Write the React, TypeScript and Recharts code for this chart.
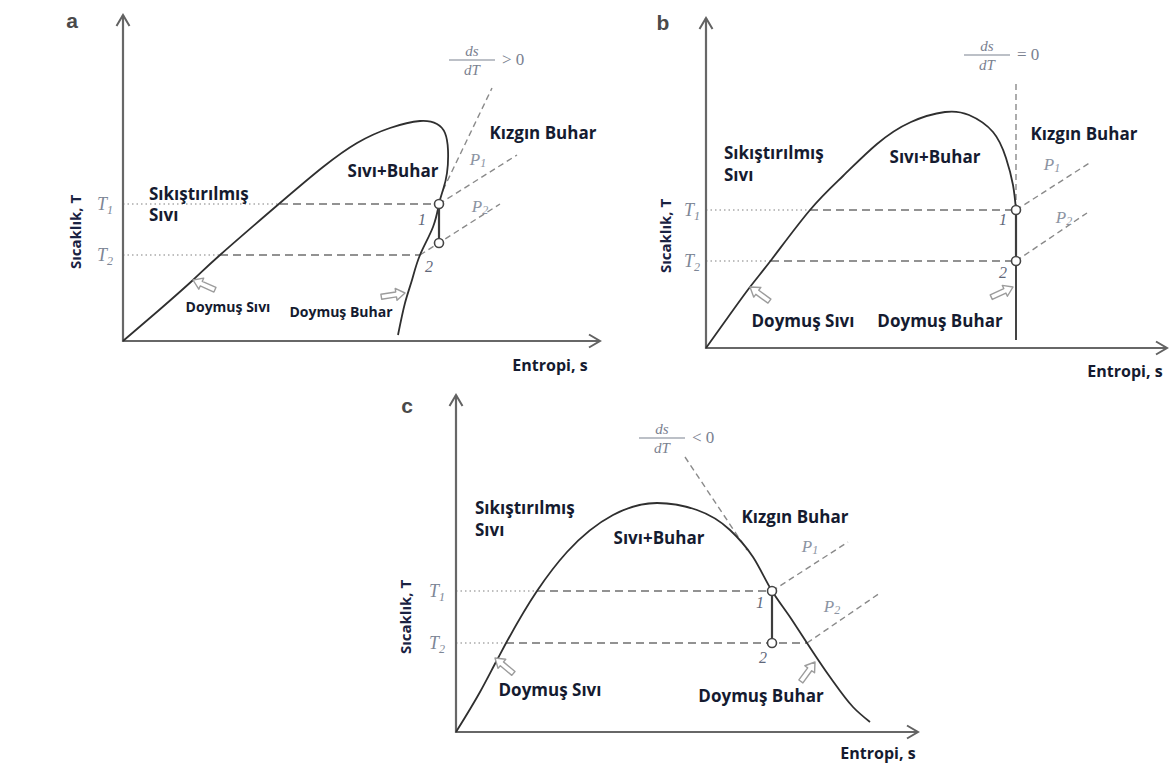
import React from 'react'
import { ComposedChart, Line, Scatter, XAxis, YAxis } from 'recharts'

type Pt = { s: number; T: number }
type Note = { s: number; T: number; text: string; kind: string; sub?: string }
type Pointer = { s: number; T: number; dir: number }

const SANS = '"Open Sans", "Noto Sans", sans-serif'
const SERIF = '"Liberation Serif", "DejaVu Serif", serif'
const INK = '#151b30'

// ---------- (a) ds/dT > 0 ----------
const axesA: Pt[] = [{ s: 0, T: 326 }, { s: 0, T: 0 }, { s: 477, T: 0 }]
const domeA: Pt[] = [
  { s: 0, T: 0 }, { s: 35, T: 30 }, { s: 70, T: 61 }, { s: 97, T: 86 }, { s: 157, T: 138 },
  { s: 200, T: 174 }, { s: 234, T: 198 }, { s: 267, T: 213 }, { s: 297, T: 220 },
  { s: 314, T: 217 }, { s: 322, T: 208 }, { s: 325, T: 191 }, { s: 324, T: 168 },
  { s: 320, T: 151 }, { s: 316, T: 137 }, { s: 310, T: 114 }, { s: 297, T: 86 },
  { s: 289, T: 61 }, { s: 282, T: 38 }, { s: 275, T: 6 },
]
const guidesA: Pt[][] = [
  [{ s: 0, T: 137 }, { s: 157, T: 137 }],
  [{ s: 0, T: 86 }, { s: 97, T: 86 }],
]
const isothermsA: Pt[][] = [
  [{ s: 157, T: 137 }, { s: 316, T: 137 }],
  [{ s: 97, T: 86 }, { s: 297, T: 86 }],
]
const isobarsA: Pt[][] = [
  [{ s: 316, T: 137 }, { s: 394, T: 186 }],
  [{ s: 297, T: 86 }, { s: 377, T: 137 }],
  [{ s: 320, T: 151 }, { s: 369, T: 253 }],
]
const expansionA: Pt[] = [{ s: 316, T: 137 }, { s: 316, T: 98 }]
const notesA: Note[] = [
  { s: -51, T: 321, text: 'a', kind: 'letter' },
  { s: -48, T: 109, text: 'Sıcaklık, T', kind: 'axisT' },
  { s: 427, T: -24, text: 'Entropi, s', kind: 'axisS' },
  { s: -18, T: 137, text: 'T', sub: '1', kind: 'tick' },
  { s: -18, T: 86, text: 'T', sub: '2', kind: 'tick' },
  { s: 349, T: 281, text: '> 0', kind: 'frac' },
  { s: 420, T: 209, text: 'Kızgın Buhar', kind: 'region' },
  { s: 270, T: 171, text: 'Sıvı+Buhar', kind: 'region' },
  { s: 26, T: 148, text: 'Sıkıştırılmış', kind: 'regionLeft' },
  { s: 26, T: 127, text: 'Sıvı', kind: 'regionLeft' },
  { s: 105, T: 35, text: 'Doymuş Sıvı', kind: 'note' },
  { s: 218, T: 30, text: 'Doymuş Buhar', kind: 'note' },
  { s: 355, T: 181, text: 'P', sub: '1', kind: 'iso' },
  { s: 357, T: 134, text: 'P', sub: '2', kind: 'iso' },
  { s: 299, T: 121, text: '1', kind: 'state' },
  { s: 306, T: 74, text: '2', kind: 'state' },
]
const pointersA: Pointer[] = [
  { s: 70, T: 61, dir: 204 },
  { s: 282, T: 48, dir: -9 },
]

// ---------- (b) ds/dT = 0 ----------
const axesB: Pt[] = [{ s: 0, T: 330 }, { s: 0, T: 0 }, { s: 461, T: 0 }]
const domeB: Pt[] = [
  { s: 0, T: 0 }, { s: 20, T: 28 }, { s: 44, T: 61 }, { s: 66, T: 89 }, { s: 104, T: 138 },
  { s: 137, T: 172 }, { s: 171, T: 204 }, { s: 205, T: 226 }, { s: 239, T: 236 },
  { s: 263, T: 233 }, { s: 287, T: 216 }, { s: 300, T: 190 }, { s: 307, T: 163 },
  { s: 310, T: 138 },
]
const vaporB: Pt[] = [{ s: 310, T: 138 }, { s: 310, T: 8 }]
const guidesB: Pt[][] = [
  [{ s: 0, T: 138 }, { s: 104, T: 138 }],
  [{ s: 0, T: 87 }, { s: 65, T: 87 }],
]
const isothermsB: Pt[][] = [
  [{ s: 104, T: 138 }, { s: 310, T: 138 }],
  [{ s: 65, T: 87 }, { s: 310, T: 87 }],
]
const isobarsB: Pt[][] = [
  [{ s: 310, T: 138 }, { s: 385, T: 186 }],
  [{ s: 310, T: 87 }, { s: 381, T: 135 }],
  [{ s: 310, T: 138 }, { s: 310, T: 266 }],
]
const expansionB: Pt[] = [{ s: 310, T: 138 }, { s: 310, T: 87 }]
const notesB: Note[] = [
  { s: -43, T: 326, text: 'b', kind: 'letter' },
  { s: -41, T: 112, text: 'Sıcaklık, T', kind: 'axisT' },
  { s: 419, T: -23, text: 'Entropi, s', kind: 'axisS' },
  { s: -14, T: 138, text: 'T', sub: '1', kind: 'tick' },
  { s: -14, T: 87, text: 'T', sub: '2', kind: 'tick' },
  { s: 281, T: 293, text: '= 0', kind: 'frac' },
  { s: 378, T: 215, text: 'Kızgın Buhar', kind: 'region' },
  { s: 229, T: 192, text: 'Sıvı+Buhar', kind: 'region' },
  { s: 18, T: 196, text: 'Sıkıştırılmış', kind: 'regionLeft' },
  { s: 18, T: 174, text: 'Sıvı', kind: 'regionLeft' },
  { s: 97, T: 28, text: 'Doymuş Sıvı', kind: 'note' },
  { s: 234, T: 28, text: 'Doymuş Buhar', kind: 'note' },
  { s: 346, T: 183, text: 'P', sub: '1', kind: 'iso' },
  { s: 358, T: 130, text: 'P', sub: '2', kind: 'iso' },
  { s: 297, T: 128, text: '1', kind: 'state' },
  { s: 297, T: 75, text: '2', kind: 'state' },
]
const pointersB: Pointer[] = [
  { s: 44, T: 61, dir: 216 },
  { s: 307, T: 61, dir: -25 },
]

// ---------- (c) ds/dT < 0 ----------
const axesC: Pt[] = [{ s: 0, T: 337 }, { s: 0, T: 0 }, { s: 462, T: 0 }]
const domeC: Pt[] = [
  { s: 0, T: 0 }, { s: 24, T: 40 }, { s: 41, T: 72 }, { s: 49, T: 87 }, { s: 81, T: 141 },
  { s: 111, T: 180 }, { s: 157, T: 217 }, { s: 201, T: 229 }, { s: 241, T: 222 },
  { s: 274, T: 202 }, { s: 297, T: 175 }, { s: 316, T: 141 }, { s: 334, T: 115 },
  { s: 351, T: 89 }, { s: 374, T: 55 }, { s: 397, T: 25 }, { s: 414, T: 10 },
]
const guidesC: Pt[][] = [
  [{ s: 0, T: 141 }, { s: 81, T: 141 }],
  [{ s: 0, T: 89 }, { s: 50, T: 89 }],
]
const isothermsC: Pt[][] = [
  [{ s: 81, T: 141 }, { s: 316, T: 141 }],
  [{ s: 50, T: 89 }, { s: 351, T: 89 }],
]
const isobarsC: Pt[][] = [
  [{ s: 316, T: 141 }, { s: 392, T: 190 }],
  [{ s: 351, T: 89 }, { s: 424, T: 139 }],
  [{ s: 229, T: 275 }, { s: 291, T: 182 }],
]
const expansionC: Pt[] = [{ s: 316, T: 141 }, { s: 316, T: 89 }]
const notesC: Note[] = [
  { s: -49, T: 327, text: 'c', kind: 'letter' },
  { s: -51, T: 115, text: 'Sıcaklık, T', kind: 'axisT' },
  { s: 422, T: -21, text: 'Entropi, s', kind: 'axisS' },
  { s: -19, T: 141, text: 'T', sub: '1', kind: 'tick' },
  { s: -19, T: 89, text: 'T', sub: '2', kind: 'tick' },
  { s: 206, T: 294, text: '< 0', kind: 'frac' },
  { s: 339, T: 216, text: 'Kızgın Buhar', kind: 'region' },
  { s: 203, T: 195, text: 'Sıvı+Buhar', kind: 'region' },
  { s: 19, T: 225, text: 'Sıkıştırılmış', kind: 'regionLeft' },
  { s: 19, T: 203, text: 'Sıvı', kind: 'regionLeft' },
  { s: 94, T: 43, text: 'Doymuş Sıvı', kind: 'note' },
  { s: 305, T: 37, text: 'Doymuş Buhar', kind: 'note' },
  { s: 354, T: 185, text: 'P', sub: '1', kind: 'iso' },
  { s: 376, T: 125, text: 'P', sub: '2', kind: 'iso' },
  { s: 304, T: 129, text: '1', kind: 'state' },
  { s: 307, T: 74, text: '2', kind: 'state' },
]
const pointersC: Pointer[] = [
  { s: 39, T: 74, dir: 220 },
  { s: 359, T: 70, dir: -54 },
]

type Sizes = { region: number; note: number }

// one text renderer for every annotation kind
const makeNote = (sizes: Sizes) => (props: any) => {
  const { cx, cy, payload } = props
  const n: Note = payload
  const bold = { fontFamily: SANS, fontWeight: 700, fill: INK }
  switch (n.kind) {
    case 'letter':
      return (
        <text x={cx} y={cy} textAnchor="middle" dominantBaseline="central"
          fontFamily='"Liberation Sans", Arial, sans-serif' fontWeight={600} fontSize={21} fill="#4a4a4a">
          {n.text}
        </text>
      )
    case 'axisT':
      return (
        <text x={cx} y={cy} textAnchor="middle" dominantBaseline="central" fontSize={15}
          transform={`rotate(-90, ${cx}, ${cy})`} {...bold} fill="#1a2242">
          {n.text}
        </text>
      )
    case 'axisS':
      return (
        <text x={cx} y={cy} textAnchor="middle" dominantBaseline="central" fontSize={16} {...bold}>
          {n.text}
        </text>
      )
    case 'region':
    case 'regionLeft':
      return (
        <text x={cx} y={cy} textAnchor={n.kind === 'region' ? 'middle' : 'start'}
          dominantBaseline="central" fontSize={sizes.region} {...bold}>
          {n.text}
        </text>
      )
    case 'note':
      return (
        <text x={cx} y={cy} textAnchor="middle" dominantBaseline="central" fontSize={sizes.note} {...bold}>
          {n.text}
        </text>
      )
    case 'tick':
      return (
        <text x={cx} y={cy + 6} textAnchor="middle" fontFamily={SERIF} fontStyle="italic"
          fontSize={18} fill="#7d8696">
          {n.text}
          <tspan fontSize={12} dy={4}>{n.sub}</tspan>
        </text>
      )
    case 'iso':
      return (
        <text x={cx} y={cy + 5} textAnchor="middle" fontFamily={SERIF} fontStyle="italic"
          fontSize={17} fill="#8c94a2">
          {n.text}
          <tspan fontSize={12} dy={2}>{n.sub}</tspan>
        </text>
      )
    case 'state':
      return (
        <text x={cx} y={cy + 5} textAnchor="middle" fontFamily={SERIF} fontStyle="italic"
          fontSize={16} fill="#5f6779">
          {n.text}
        </text>
      )
    case 'frac':
      return (
        <g fill="#7a8190" fontFamily={SERIF}>
          <text x={cx} y={cy - 4} textAnchor="middle" fontStyle="italic" fontSize={15}>ds</text>
          <line x1={cx - 23} x2={cx + 23} y1={cy} y2={cy} stroke="#7a8190" strokeWidth={1.2} />
          <text x={cx} y={cy + 15} textAnchor="middle" fontStyle="italic" fontSize={15}>dT</text>
          <text x={cx + 30} y={cy + 5} fontSize={17}>{n.text}</text>
        </g>
      )
    default:
      return <g />
  }
}

// hollow block arrow whose tip sits on the saturation curve
const Pointer = (props: any) => {
  const { cx, cy, payload } = props
  return (
    <polygon
      points="0,0 -9,-6 -9,-2.5 -24,-2.5 -24,2.5 -9,2.5 -9,6"
      transform={`translate(${cx}, ${cy}) rotate(${payload.dir})`}
      fill="#fff" stroke="#9c9c9c" strokeWidth={1.4} strokeLinejoin="round"
    />
  )
}

const AxisTip = (props: any) => {
  const { cx, cy, payload } = props
  return (
    <path d="M -11 -6.5 L 0 0 L -11 6.5" transform={`translate(${cx}, ${cy}) rotate(${payload.dir})`}
      fill="none" stroke="#626262" strokeWidth={2} />
  )
}

const StateDot = (props: any) => (
  <circle cx={props.cx} cy={props.cy} r={4.5} fill="#fff" stroke="#454545" strokeWidth={1.6} />
)

type PanelProps = {
  left: number; top: number; width: number; height: number; ox: number; oy: number
  axes: Pt[]; dome: Pt[]; domeType: 'natural' | 'monotone'; vapor?: Pt[]
  guides: Pt[][]; isotherms: Pt[][]; isobars: Pt[][]; expansion: Pt[]
  notes: Note[]; pointers: Pointer[]; sizes: Sizes
}

function Panel(p: PanelProps) {
  // 1 unit = 1 px, origin of the T-s axes at (ox, oy) of the page
  const sDomain = [p.left - p.ox, p.left + p.width - p.ox]
  const TDomain = [p.oy - (p.top + p.height), p.oy - p.top]
  const tips = [
    { ...p.axes[0], dir: -90 },
    { ...p.axes[p.axes.length - 1], dir: 0 },
  ]
  const states = [p.expansion[0], p.expansion[p.expansion.length - 1]]
  return (
    <div style={{ position: 'absolute', left: p.left, top: p.top }}>
      <ComposedChart width={p.width} height={p.height} margin={{ top: 0, right: 0, bottom: 0, left: 0 }}>
        <XAxis type="number" dataKey="s" domain={sDomain} hide allowDataOverflow />
        <YAxis type="number" dataKey="T" domain={TDomain} hide allowDataOverflow />
        {p.guides.map((g, i) => (
          <Line key={`g${i}`} data={g} dataKey="T" type="linear" stroke="#ababab" strokeWidth={1.3}
            strokeDasharray="1.5 3" dot={false} activeDot={false} isAnimationActive={false} />
        ))}
        {p.isotherms.map((g, i) => (
          <Line key={`t${i}`} data={g} dataKey="T" type="linear" stroke="#6f6f6f" strokeWidth={1.6}
            strokeDasharray="8 5" dot={false} activeDot={false} isAnimationActive={false} />
        ))}
        {p.isobars.map((g, i) => (
          <Line key={`p${i}`} data={g} dataKey="T" type="linear" stroke="#8a8a8a" strokeWidth={1.4}
            strokeDasharray="6 4" dot={false} activeDot={false} isAnimationActive={false} />
        ))}
        <Line data={p.axes} dataKey="T" type="linear" stroke="#676767" strokeWidth={2.2}
          dot={false} activeDot={false} isAnimationActive={false} />
        <Line data={p.dome} dataKey="T" type={p.domeType} stroke="#2f2f2f" strokeWidth={1.8}
          dot={false} activeDot={false} isAnimationActive={false} />
        {p.vapor && (
          <Line data={p.vapor} dataKey="T" type="linear" stroke="#2f2f2f" strokeWidth={1.8}
            dot={false} activeDot={false} isAnimationActive={false} />
        )}
        <Line data={p.expansion} dataKey="T" type="linear" stroke="#3d3d3d" strokeWidth={2.2}
          dot={false} activeDot={false} isAnimationActive={false} />
        <Scatter data={states} shape={StateDot} isAnimationActive={false} />
        <Scatter data={tips} shape={AxisTip} isAnimationActive={false} />
        <Scatter data={p.pointers} shape={Pointer} isAnimationActive={false} />
        <Scatter data={p.notes} shape={makeNote(p.sizes)} isAnimationActive={false} />
      </ComposedChart>
    </div>
  )
}

export default function App() {
  return (
    <div style={{ position: 'fixed', left: 0, top: 0, width: 1171, height: 767, background: '#fff', overflow: 'hidden' }}>
      <Panel left={40} top={0} width={575} height={385} ox={123} oy={341}
        axes={axesA} dome={domeA} domeType="natural" guides={guidesA} isotherms={isothermsA} isobars={isobarsA}
        expansion={expansionA} notes={notesA} pointers={pointersA} sizes={{ region: 17, note: 14 }} />
      <Panel left={630} top={0} width={541} height={390} ox={706} oy={348}
        axes={axesB} dome={domeB} domeType="natural" vapor={vaporB} guides={guidesB} isotherms={isothermsB}
        isobars={isobarsB} expansion={expansionB} notes={notesB} pointers={pointersB} sizes={{ region: 17, note: 17 }} />
      <Panel left={380} top={386} width={560} height={381} ox={456} oy={732}
        axes={axesC} dome={domeC} domeType="monotone" guides={guidesC} isotherms={isothermsC} isobars={isobarsC}
        expansion={expansionC} notes={notesC} pointers={pointersC} sizes={{ region: 17, note: 17 }} />
    </div>
  )
}
